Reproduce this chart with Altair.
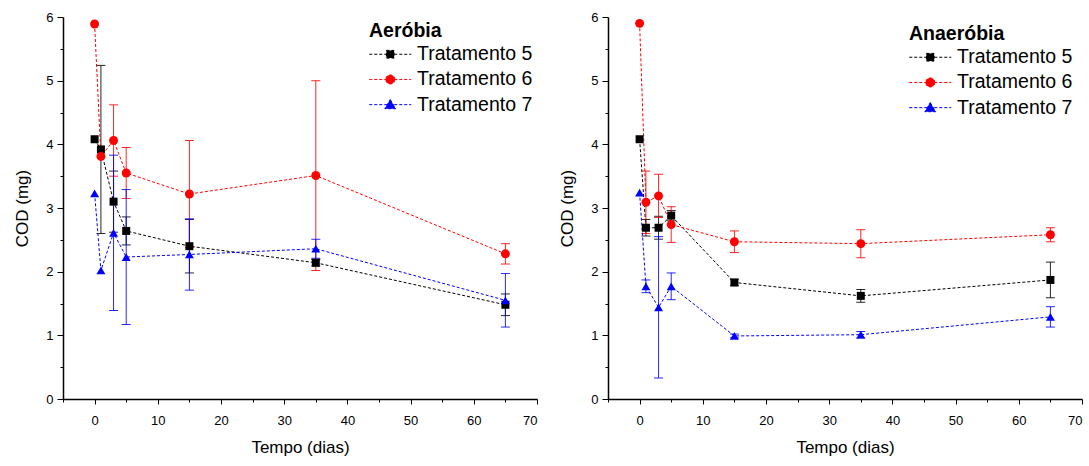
import altair as alt
import pandas as pd

# ---------------- data ----------------
days = [0, 1, 3, 5, 15, 35, 65]
series_names = ["Tratamento 5", "Tratamento 6", "Tratamento 7"]
colors = ["#000000", "#ff0000", "#0000ff"]
shapes = ["square", "circle", "triangle-up"]
sizes = [64, 80, 80]

# Aeróbia
aer_t5 = [4.08, 3.92, 3.10, 2.64, 2.40, 2.14, 1.48]
aer_t5_err = [0, 1.32, 0.48, 0.22, 0.42, 0.05, 0.17]
aer_t6 = [5.89, 3.81, 4.06, 3.55, 3.22, 3.51, 2.28]
aer_t6_err = [0, 0, 0.56, 0.40, 0.84, 1.49, 0.16]
aer_t7 = [3.23, 2.02, 2.61, 2.23, 2.27, 2.36, 1.55]
aer_t7_err = [0, 0, 1.22, 1.06, 0.56, 0.15, 0.42]

# Anaeróbia
ana_t5 = [4.08, 2.69, 2.69, 2.88, 1.83, 1.62, 1.87]
ana_t5_err = [0, 0.13, 0.18, 0.08, 0.05, 0.10, 0.28]
ana_t6 = [5.90, 3.09, 3.19, 2.74, 2.47, 2.44, 2.58]
ana_t6_err = [0, 0.49, 0.34, 0.28, 0.17, 0.22, 0.11]
ana_t7 = [3.24, 1.77, 1.44, 1.77, 0.99, 1.01, 1.29]
ana_t7_err = [0, 0.10, 1.11, 0.21, 0.03, 0.05, 0.16]

x_major = list(range(0, 71, 10))
x_minor = list(range(-5, 70, 10))
y_major = list(range(0, 7))
y_minor = [i + 0.5 for i in range(0, 6)]

# legend symbols: dashed line with the marker in the middle
legend_paths = [
    "M-3,0H3M-0.55,-0.55H0.55V0.55H-0.55Z",
    "M-3,0H3M0.65,0A0.65,0.65,0,1,1,-0.65,0A0.65,0.65,0,1,1,0.65,0Z",
    "M-3,0H3M0,-0.72L0.78,0.58L-0.78,0.58Z",
]


def make_df(vals, errs):
    rows = []
    for name, v, e in zip(series_names, vals, errs):
        for d, y, err in zip(days, v, e):
            rows.append({"dia": d, "cod": y, "err": err,
                         "lo": y - err, "hi": y + err, "serie": name})
    return pd.DataFrame(rows)


FONT = "Liberation Sans"


def panel(df, legend_title, legend_x, legend_y):
    xscale = alt.Scale(domain=[-5, 70], nice=False, zero=False)
    yscale = alt.Scale(domain=[0, 6], nice=False)
    xaxis = alt.Axis(title="Tempo (dias)", values=x_major, format="d", orient="bottom",
                     tickSize=5, labelPadding=10, titlePadding=12, labelOverlap=False)
    yaxis = alt.Axis(title="COD (mg)", values=y_major, format="d", orient="left",
                     tickSize=6, labelPadding=4, titlePadding=14, labelOverlap=False)
    xminor = alt.Axis(title=None, values=x_minor, labels=False, domain=False,
                      tickSize=3, orient="bottom")
    yminor = alt.Axis(title=None, values=y_minor, labels=False, domain=False,
                      tickSize=3, orient="left")

    layers = []
    # axes carrier (major ticks) + minor-tick carrier
    layers.append(alt.Chart(df).mark_point(opacity=0, size=1).encode(
        x=alt.X("dia:Q", scale=xscale, axis=xaxis),
        y=alt.Y("cod:Q", scale=yscale, axis=yaxis)))
    layers.append(alt.Chart(df).mark_point(opacity=0, size=1).encode(
        x=alt.X("dia:Q", scale=xscale, axis=xminor),
        y=alt.Y("cod:Q", scale=yscale, axis=yminor)))

    X = alt.X("dia:Q", scale=xscale, axis=None)
    for name, c, s, sz in zip(series_names, colors, shapes, sizes):
        sdf = df[df["serie"] == name]
        edf = sdf[sdf["err"] > 0]
        layers.append(alt.Chart(sdf).mark_line(strokeDash=[3, 2], strokeWidth=1, color=c).encode(
            x=X, y=alt.Y("cod:Q", scale=yscale, axis=None)))
        layers.append(alt.Chart(edf).mark_rule(strokeWidth=1, opacity=0.85, color=c).encode(
            x=X, y=alt.Y("lo:Q", scale=yscale, axis=None), y2="hi:Q"))
        layers.append(alt.Chart(edf).mark_tick(orient="horizontal", size=9, thickness=1,
                                               opacity=0.85, color=c).encode(
            x=X, y=alt.Y("lo:Q", scale=yscale, axis=None)))
        layers.append(alt.Chart(edf).mark_tick(orient="horizontal", size=9, thickness=1,
                                               opacity=0.85, color=c).encode(
            x=X, y=alt.Y("hi:Q", scale=yscale, axis=None)))
    for name, c, s, sz in zip(series_names, colors, shapes, sizes):
        sdf = df[df["serie"] == name]
        layers.append(alt.Chart(sdf).mark_point(
            shape=s, filled=True, size=sz, opacity=1, color=c
        ).encode(x=X, y=alt.Y("cod:Q", scale=yscale, axis=None)))

    leg = alt.Legend(
        title=legend_title, orient="none", legendX=legend_x, legendY=legend_y,
        symbolSize=196, symbolStrokeWidth=1, symbolDash=[3, 2], symbolOpacity=1,
        symbolOffset=11.5,
        labelFont=FONT, labelFontSize=19.5, labelColor="#000000",
        titleFont=FONT, titleFontSize=19.5, titleFontWeight="bold", titleColor="#000000",
        padding=0, rowPadding=4.2, labelOffset=17, titlePadding=3,
    )
    # invisible layer that only carries the legend
    layers.append(alt.Chart(df).mark_point(filled=True, opacity=0, strokeWidth=1).encode(
        x=X, y=alt.Y("cod:Q", scale=yscale, axis=None),
        fill=alt.Fill("serie:N", scale=alt.Scale(domain=series_names, range=colors), legend=leg),
        stroke=alt.Stroke("serie:N", scale=alt.Scale(domain=series_names, range=colors), legend=leg),
        shape=alt.Shape("serie:N", scale=alt.Scale(domain=series_names, range=legend_paths), legend=leg),
    ))

    return alt.layer(*layers).resolve_axis(
        x="independent", y="independent").properties(width=474, height=382)


left = panel(make_df([aer_t5, aer_t6, aer_t7], [aer_t5_err, aer_t6_err, aer_t7_err]),
             "Aeróbia", 306, 5)
right = panel(make_df([ana_t5, ana_t6, ana_t7], [ana_t5_err, ana_t6_err, ana_t7_err]),
              "Anaeróbia", 301, 8)

chart = alt.hconcat(left, right, spacing=20).resolve_scale(
    fill="independent", stroke="independent", shape="independent"
).resolve_legend(
    fill="independent", stroke="independent", shape="independent"
).properties(
    padding={"left": 13, "top": 10, "right": 0, "bottom": 0}
).configure_view(stroke="transparent").configure_axis(
    grid=False, domainColor="#000000", domainWidth=1.5, tickColor="#000000", tickWidth=1,
    labelFont=FONT, labelFontSize=13, labelColor="#000000",
    titleFont=FONT, titleFontSize=17, titleFontWeight="normal", titleColor="#000000",
)

chart.save("out.html", embed_options={"renderer": "svg", "actions": False})
